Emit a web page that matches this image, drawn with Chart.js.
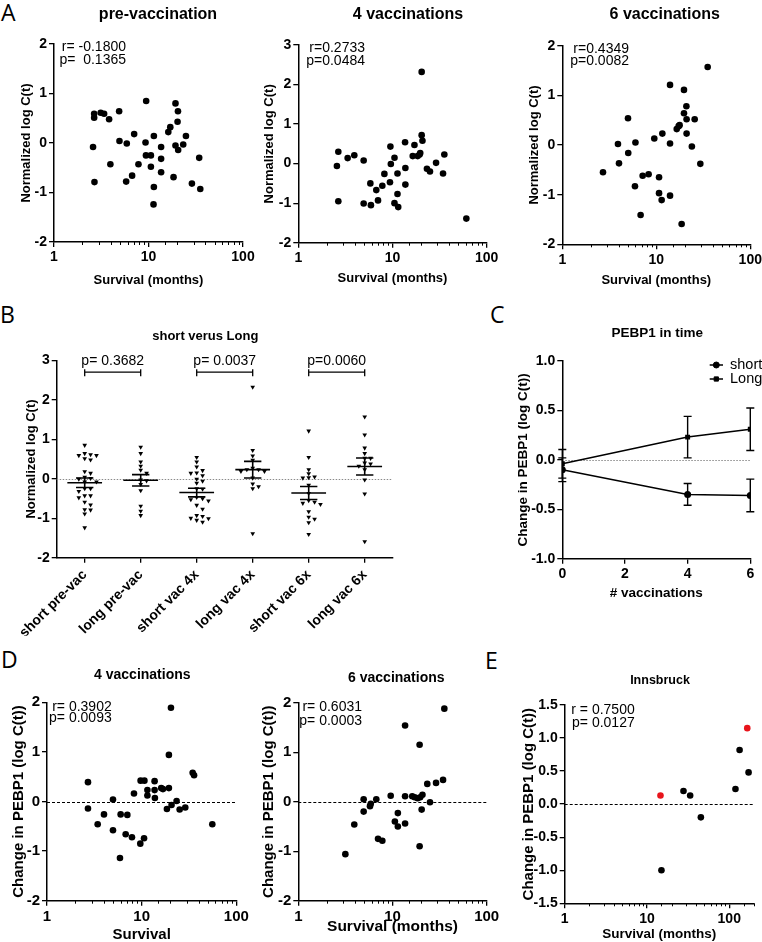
<!DOCTYPE html>
<html>
<head>
<meta charset="utf-8">
<script src="https://cdn.jsdelivr.net/npm/chart.js@4.4.0/dist/chart.umd.min.js"></script>
<style>
html, body { margin: 0; padding: 0; width: 762px; height: 942px; overflow: hidden; background: #fff; }
canvas { position: absolute; }
.tag { position: absolute; font-family: 'Open Sans', sans-serif; font-size: 23px; line-height: 23px; color: #000; }
</style>
</head>
<body>
<div class="tag" style="left:1px;top:1px">A</div>
<div class="tag" style="left:0px;top:303px">B</div>
<div class="tag" style="left:490px;top:303px">C</div>
<div class="tag" style="left:1px;top:648px">D</div>
<div class="tag" style="left:485px;top:649px">E</div>
<script>
// ---- data ----
// A: normalized log C(t) against survival (months)
const preSurv = [2.59, 2.66, 2.66, 2.68, 3.12, 3.39, 3.83, 3.95, 4.89, 4.93, 5.89, 5.8, 7.05, 6.71, 7.83, 9.45, 9.3, 9.4, 10.6, 10.6, 11.4, 11.4, 11.3, 13.6, 13.6, 13.6, 16.2, 17.0, 18.4, 19.3, 19.3, 20.5, 20.3, 20.6, 23.3, 24.9, 28.8, 34.4, 35.3];
const preLogC = [-0.08, 0.59, 0.51, -0.79, 0.61, 0.59, 0.48, -0.43, 0.64, 0.04, -0.01, -0.78, 0.18, -0.66, -0.43, 0.85, 0.01, -0.25, -0.25, -0.48, 0.14, -0.89, -1.24, -0.08, -0.32, -0.59, 0.22, 0.32, -0.69, 0.80, -0.05, 0.64, 0.43, -0.14, -0.03, 0.14, -0.82, -0.30, -0.93];
const vac4Surv = [2.57, 2.66, 2.66, 3.34, 3.93, 4.94, 4.94, 5.82, 5.9, 6.73, 7.02, 7.8, 8.2, 9.4, 9.5, 9.6, 10.5, 10.5, 11.3, 11.3, 11.5, 13.6, 13.7, 13.7, 16.4, 17.1, 18.5, 19.4, 19.7, 20.4, 20.4, 20.8, 23.2, 25.0, 29.0, 34.4, 35.5, 60.8];
const vac4LogC = [-0.06, 0.30, -0.95, 0.14, 0.21, 0.08, -1.01, -0.50, -1.05, -0.67, -0.93, -0.56, -0.26, -0.47, 0.43, -0.01, 0.15, -1.00, -0.25, -0.77, -1.10, 0.54, -0.11, -0.53, 0.19, 0.47, 0.19, 0.23, 0.27, 2.32, 0.72, 0.58, -0.13, -0.20, 0.02, -0.25, 0.23, -1.39];
const vac6Surv = [2.71, 3.91, 4.01, 5.0, 5.03, 5.93, 6.0, 6.81, 7.16, 8.28, 9.52, 10.7, 10.7, 11.4, 11.6, 14.0, 14.0, 14.0, 16.5, 17.3, 17.7, 18.6, 19.7, 19.7, 20.9, 21.0, 21.0, 23.9, 25.6, 29.4, 35.2];
const vac6LogC = [-0.55, 0.02, -0.37, 0.54, -0.16, -0.83, 0.05, -1.41, -0.62, -0.59, 0.13, -0.65, -0.97, -1.11, 0.23, 1.21, 0.03, -1.02, 0.32, 0.38, 0.40, -1.59, 1.11, 0.64, 0.78, 0.52, 0.23, -0.03, 0.52, -0.38, 1.57];
const statsPre = ['r= -0.1800', 'p=  0.1365'];
const statsVac4 = ['r=0.2733', 'p=0.0484'];
const statsVac6 = ['r=0.4349', 'p=0.0082'];

// B: short vs long survivors (split of the A data) with mean +/- SEM
const bCategories = ['short pre-vac', 'long pre-vac', 'short vac 4x', 'long vac 4x', 'short vac 6x', 'long vac 6x'];
const cutoffMonths = 15;
const pLabels = ['p= 0.3682', 'p= 0.0037', 'p=0.0060'];

// C: PEBP1 in time
const vaccinations = [0, 4, 6];
const shortMean = [-0.10, -0.35, -0.36];
const shortSem = [0.12, 0.11, 0.165];
const longMean = [-0.04, 0.23, 0.31];
const longSem = [0.145, 0.21, 0.215];

// D: change in PEBP1 against survival
const d4Surv = [2.71, 2.71, 3.43, 4.0, 4.98, 4.98, 6.0, 5.9, 6.78, 7.06, 7.9, 8.3, 9.68, 9.75, 10.7, 10.6, 11.5, 11.5, 13.7, 13.7, 13.8, 16.1, 16.8, 18.5, 19.4, 19.4, 20.4, 20.7, 23.4, 25.2, 28.9, 34.6, 35.8, 55.8];
const d4Change = [0.39, -0.14, -0.46, -0.26, 0.04, -0.58, -0.26, -1.14, -0.66, -0.27, -0.72, 0.16, -0.85, 0.42, 0.42, -0.74, 0.23, 0.12, 0.41, 0.23, 0.07, 0.27, 0.25, -0.15, 0.27, 0.94, 1.89, -0.07, 0.01, -0.16, -0.12, 0.58, 0.53, -0.46];
const d6Surv = [3.16, 3.93, 4.94, 4.94, 5.77, 5.88, 6.73, 7.02, 7.8, 9.57, 10.6, 11.4, 11.4, 13.6, 13.6, 13.6, 16.2, 17.2, 18.5, 19.4, 19.4, 19.7, 20.4, 20.8, 23.4, 25.0, 29.0, 34.4, 35.5];
const d6Change = [-1.06, -0.46, 0.05, -0.20, -0.09, -0.04, 0.05, -0.75, -0.79, 0.12, -0.40, -0.23, -0.50, 1.54, 0.11, -0.44, 0.11, 0.09, 0.07, 1.15, -0.90, 0.09, -0.16, 0.14, 0.36, -0.01, 0.38, 0.44, 1.88];
const statsD4 = ['r= 0.3902', 'p= 0.0093'];
const statsD6 = ['r= 0.6031', 'p= 0.0003'];

// E: Innsbruck cohort (two highlighted patients in red)
const innsSurv = [15.0, 27.8, 33.5, 45.2, 119, 133.6, 171.8];
const innsChange = [-1.00, 0.20, 0.13, -0.20, 0.23, 0.82, 0.48];
const innsRedSurv = [14.6, 165.6];
const innsRedChange = [0.13, 1.15];
const statsInns = ['r = 0.7500', 'p= 0.0127'];

// ---- helpers ----
const SANS = "'Liberation Sans', Arial, Helvetica, sans-serif";
Chart.defaults.font.family = SANS;
Chart.defaults.color = '#000';

const decades = [1, 10, 100];
const isDecade = v => decades.some(d => Math.abs(v - d) < 1e-6);

function axisBase(size) {
    return {
        border: {display: true, color: '#000', width: 1.5},
        grid: {drawOnChartArea: false, drawTicks: true, tickLength: 5, color: '#000', lineWidth: 1.3},
        ticks: {color: '#000', padding: 2, font: {size: size, weight: 'bold'}}
    };
}

function logX(size, max) {
    const o = axisBase(size);
    o.type = 'logarithmic';
    o.min = 1;
    o.max = max || 100;
    // minor ticks are drawn shorter by minorTicks()
    o.grid.tickColor = c => (c.tick && isDecade(c.tick.value)) ? '#000' : 'rgba(0,0,0,0)';
    o.ticks.autoSkip = false;
    o.ticks.maxRotation = 0;
    o.ticks.callback = v => isDecade(v) ? String(v) : '';
    return o;
}

function minorTicks(chart, ctx) {
    const xs = chart.scales.x;
    const y = chart.chartArea.bottom;
    ctx.save();
    ctx.strokeStyle = '#000';
    ctx.lineWidth = 1;
    ctx.beginPath();
    xs.ticks.forEach(t => {
        if (isDecade(t.value)) return;
        const x = Math.round(xs.getPixelForValue(t.value)) + 0.5;
        ctx.moveTo(x, y);
        ctx.lineTo(x, y + 3);
    });
    ctx.stroke();
    ctx.restore();
}

function linAxis(size, min, max, step, digits) {
    const o = axisBase(size);
    o.type = 'linear';
    o.min = min;
    o.max = max;
    o.ticks.stepSize = step;
    if (digits) o.ticks.callback = v => v.toFixed(digits);
    return o;
}

function points(xs, ys) {
    return xs.map((x, i) => ({x: x, y: ys[i]}));
}

function dots(xs, ys, color) {
    return {data: points(xs, ys), backgroundColor: color || '#000', borderWidth: 0, pointRadius: 3.3};
}

function zeroLine(color, dash) {
    return (chart, ctx) => {
        const {left, right} = chart.chartArea;
        const y = Math.round(chart.scales.y.getPixelForValue(0)) + 0.5;
        ctx.save();
        ctx.strokeStyle = color;
        ctx.lineWidth = 1;
        ctx.setLineDash(dash);
        ctx.beginPath();
        ctx.moveTo(left, y);
        ctx.lineTo(right, y);
        ctx.stroke();
        ctx.restore();
    };
}

function statsText(lines, rx, ys) {
    return (chart, ctx, off) => {
        ctx.save();
        ctx.font = '14px ' + SANS;
        ctx.fillStyle = '#000';
        ctx.textAlign = 'right';
        ctx.textBaseline = 'middle';
        lines.forEach((t, i) => ctx.fillText(t, rx - off.x, ys[i] - off.y));
        ctx.restore();
    };
}

// one chart per panel; L holds the page-space layout of the panel
function panel(L, type, datasets, xOpt, yOpt) {
    const cl = L.cl !== undefined ? L.cl : Math.round(L.yt - 0.6 * L.ys - 1);
    const ct = Math.floor(Math.min(L.ty - L.ts, L.t - 14));
    const cr = Math.round(L.r + (L.padR || 22));
    const xh = L.xh || (L.xt + 0.6 * L.xs - L.b);
    const cb = Math.ceil(L.b + xh + 3);
    const off = {x: cl, y: ct};

    const cv = document.createElement('canvas');
    cv.width = cr - cl;
    cv.height = cb - ct;
    cv.style.left = cl + 'px';
    cv.style.top = ct + 'px';
    document.body.appendChild(cv);

    xOpt.afterFit = s => { s.height = xh; s.paddingLeft = 0; s.paddingRight = 0; s.paddingTop = 0; s.paddingBottom = 0; };
    yOpt.afterFit = s => { s.width = L.l - cl; s.paddingLeft = 0; s.paddingRight = 0; s.paddingTop = 0; s.paddingBottom = 0; };
    if (L.xTitle) {
        xOpt.title = {display: true, text: L.xTitle, color: '#000', font: {size: L.xs, weight: 'bold'}, padding: {top: 0, bottom: 0}};
    }
    yOpt.title = {display: true, text: L.yTitle, color: '#000', font: {size: L.ys, weight: 'bold'}, padding: {top: L.yt - 0.6 * L.ys - cl, bottom: 0}};

    const extras = {
        id: 'extras',
        beforeDatasetsDraw(chart) {
            (L.under || []).forEach(f => f(chart, chart.ctx, off));
        },
        afterDatasetsDraw(chart) {
            (L.over || []).forEach(f => f(chart, chart.ctx, off));
        },
        afterDraw(chart) {
            const ctx = chart.ctx;
            if (xOpt.type === 'logarithmic') minorTicks(chart, ctx);
            ctx.save();
            ctx.font = 'bold ' + L.ts + 'px ' + SANS;
            ctx.fillStyle = '#000';
            ctx.textAlign = 'center';
            ctx.textBaseline = 'middle';
            ctx.fillText(L.title, L.tx - off.x, L.ty - off.y);
            ctx.restore();
            (L.text || []).forEach(f => f(chart, ctx, off));
        }
    };

    return new Chart(cv, {
        type: type,
        data: {datasets: datasets},
        options: {
            responsive: false,
            animation: false,
            events: [],
            layout: {padding: {left: 0, top: L.t - ct, right: cr - L.r, bottom: cb - L.b - xh}},
            plugins: {legend: {display: false}, tooltip: {enabled: false}},
            scales: {x: xOpt, y: yOpt}
        },
        plugins: [extras]
    });
}

// ---- A ----
const yLogC = 'Normalized log C(t)';
const xSurvM = 'Survival (months)';
panel({l: 54, t: 44, r: 243, b: 242, title: 'pre-vaccination', tx: 158, ty: 15, ts: 16,
       yTitle: yLogC, yt: 26.7, ys: 13, xTitle: xSurvM, xt: 280, xs: 13,
       text: [statsText(statsPre, 126, [46.7, 60])]},
      'scatter', [dots(preSurv, preLogC)], logX(14), linAxis(14, -2, 2, 1));
panel({l: 298.3, t: 45, r: 486.7, b: 242.7, title: '4 vaccinations', tx: 408, ty: 15, ts: 16,
       yTitle: yLogC, yt: 269, ys: 13, xTitle: xSurvM, xt: 278.3, xs: 13,
       text: [statsText(statsVac4, 365, [48.3, 61])]},
      'scatter', [dots(vac4Surv, vac4LogC)], logX(14), linAxis(14, -2, 3, 1));
panel({l: 562.3, t: 45.7, r: 750.3, b: 244.3, title: '6 vaccinations', tx: 664.7, ty: 15, ts: 16,
       yTitle: yLogC, yt: 534.7, ys: 13, xTitle: xSurvM, xt: 280, xs: 13,
       text: [statsText(statsVac6, 629, [49.3, 61])]},
      'scatter', [dots(vac6Surv, vac6LogC)], logX(14), linAxis(14, -2, 2, 1));

// ---- B ----
const timepoints = [[preSurv, preLogC], [vac4Surv, vac4LogC], [vac6Surv, vac6LogC]];
const bGroups = [];
timepoints.forEach(([surv, vals]) => {
    bGroups.push(vals.filter((v, i) => surv[i] < cutoffMonths));
    bGroups.push(vals.filter((v, i) => surv[i] >= cutoffMonths));
});
const bMean = [], bSem = [];
vaccinations.forEach((v, i) => {
    bMean.push(shortMean[i], longMean[i]);
    bSem.push(shortSem[i], longSem[i]);
});

// spread equal values sideways, like a column scatter
function swarm(values, center) {
    const STEP = 0.105, DY = 0.1;
    const placed = [];
    values.slice().sort((a, b) => b - a).forEach(v => {
        for (let k = 0; k < 40; k++) {
            const x = center + (k % 2 ? 1 : -1) * Math.ceil(k / 2) * STEP;
            if (!placed.some(p => Math.abs(p.y - v) < DY && Math.abs(p.x - x) < STEP * 0.95)) {
                placed.push({x: x, y: v});
                break;
            }
        }
    });
    return placed;
}
const bPoints = [];
bGroups.forEach((g, i) => bPoints.push(...swarm(g, i + 0.5)));

function meanSem(chart, ctx) {
    const xs = chart.scales.x, ys = chart.scales.y;
    const cat = xs.getPixelForValue(1) - xs.getPixelForValue(0);
    ctx.save();
    ctx.strokeStyle = '#000';
    ctx.lineWidth = 1.6;
    bMean.forEach((m, i) => {
        const x = xs.getPixelForValue(i + 0.5);
        const ym = ys.getPixelForValue(m);
        const yt = ys.getPixelForValue(m + bSem[i]);
        const yb = ys.getPixelForValue(m - bSem[i]);
        ctx.beginPath();
        ctx.moveTo(x - 0.31 * cat, ym); ctx.lineTo(x + 0.31 * cat, ym);
        ctx.moveTo(x, yt); ctx.lineTo(x, yb);
        ctx.moveTo(x - 0.155 * cat, yt); ctx.lineTo(x + 0.155 * cat, yt);
        ctx.moveTo(x - 0.155 * cat, yb); ctx.lineTo(x + 0.155 * cat, yb);
        ctx.stroke();
    });
    ctx.restore();
}

function brackets(chart, ctx) {
    const xs = chart.scales.x, ys = chart.scales.y;
    const y = ys.getPixelForValue(2.7);
    const ty = ys.getPixelForValue(2.97);
    ctx.save();
    ctx.strokeStyle = '#000';
    ctx.lineWidth = 1.3;
    ctx.fillStyle = '#000';
    ctx.font = '14px ' + SANS;
    ctx.textAlign = 'center';
    ctx.textBaseline = 'middle';
    pLabels.forEach((t, k) => {
        const x1 = xs.getPixelForValue(2 * k + 0.5), x2 = xs.getPixelForValue(2 * k + 1.5);
        ctx.beginPath();
        ctx.moveTo(x1, y); ctx.lineTo(x2, y);
        ctx.moveTo(x1, y - 3); ctx.lineTo(x1, y + 4);
        ctx.moveTo(x2, y - 3); ctx.lineTo(x2, y + 4);
        ctx.stroke();
        ctx.fillText(t, (x1 + x2) / 2, ty);
    });
    ctx.restore();
}

const bX = axisBase(14);
bX.type = 'linear';
bX.min = 0;
bX.max = bCategories.length;
bX.afterBuildTicks = axis => { axis.ticks = bCategories.map((c, i) => ({value: i + 0.5})); };
bX.ticks.autoSkip = false;
bX.ticks.padding = 4;
bX.ticks.minRotation = 45;
bX.ticks.maxRotation = 45;
bX.ticks.callback = (v, i) => bCategories[i];

panel({l: 56.7, t: 360.3, r: 392.7, b: 557.7, title: 'short verus Long', tx: 205.3, ty: 336.7, ts: 13,
       yTitle: yLogC, yt: 31.7, ys: 13, xh: 78, cl: 0,
       under: [zeroLine('#8a8a8a', [1.5, 1.5])], over: [meanSem, brackets]},
      'scatter', [{data: bPoints, backgroundColor: '#000', borderWidth: 0, pointStyle: 'triangle', rotation: 180, pointRadius: 2.7}],
      bX, linAxis(14, -2, 3, 1));

// ---- C ----
function errorBars(chart, ctx) {
    const xs = chart.scales.x, ys = chart.scales.y;
    ctx.save();
    ctx.strokeStyle = '#000';
    ctx.lineWidth = 1.4;
    chart.data.datasets.forEach(ds => {
        ds.data.forEach((p, i) => {
            const x = xs.getPixelForValue(p.x);
            const yt = ys.getPixelForValue(p.y + ds.sem[i]);
            const yb = ys.getPixelForValue(p.y - ds.sem[i]);
            ctx.beginPath();
            ctx.moveTo(x, yt); ctx.lineTo(x, yb);
            ctx.moveTo(x - 4, yt); ctx.lineTo(x + 4, yt);
            ctx.moveTo(x - 4, yb); ctx.lineTo(x + 4, yb);
            ctx.stroke();
        });
    });
    ctx.restore();
}

function lineLegend(chart, ctx, off) {
    const rows = [365, 379];
    ctx.save();
    chart.data.datasets.forEach((ds, i) => {
        const y = rows[i] - off.y;
        ctx.strokeStyle = '#000';
        ctx.fillStyle = '#000';
        ctx.lineWidth = 1.5;
        ctx.beginPath();
        ctx.moveTo(709.7 - off.x, y); ctx.lineTo(723 - off.x, y);
        ctx.stroke();
        ctx.lineWidth = 1;
        Chart.helpers.drawPoint(ctx, {pointStyle: ds.pointStyle, radius: 3, rotation: 0, borderWidth: 1}, 716.3 - off.x, y);
        ctx.font = '14.5px ' + SANS;
        ctx.textAlign = 'left';
        ctx.textBaseline = 'middle';
        ctx.fillText(ds.label, 730 - off.x, y);
    });
    ctx.restore();
}

function trend(label, means, sems, style) {
    return {label: label, data: points(vaccinations, means), sem: sems, showLine: true,
            borderColor: '#000', borderWidth: 1.5, backgroundColor: '#000',
            pointStyle: style, pointRadius: 3.5, pointBorderWidth: 0};
}

panel({l: 562.3, t: 361, r: 750.3, b: 558.7, title: 'PEBP1 in time', tx: 657.2, ty: 333.3, ts: 13.5,
       yTitle: 'Change in PEBP1 (log C(t))', yt: 523, ys: 13.5, xTitle: '# vaccinations', xt: 593.3, xs: 13.5,
       padR: 11.7,
       under: [zeroLine('#8a8a8a', [1.5, 1.5])], over: [errorBars], text: [lineLegend]},
      'scatter', [trend('short', shortMean, shortSem, 'circle'), trend('Long', longMean, longSem, 'rect')],
      linAxis(14, 0, 6, 2), linAxis(14, -1, 1, 0.5, 1));

// ---- D ----
const yChange = 'Change in PEBP1 (log C(t))';
panel({l: 47, t: 702.3, r: 236.3, b: 900.7, title: '4 vaccinations', tx: 142.3, ty: 675, ts: 14,
       yTitle: yChange, yt: 19.3, ys: 15, xTitle: 'Survival', xt: 935, xs: 15,
       under: [zeroLine('#000', [3, 2])], text: [statsText(statsD4, 111.7, [707, 718])]},
      'scatter', [dots(d4Surv, d4Change)], logX(15), linAxis(15, -2, 2, 1));
panel({l: 298.3, t: 702.7, r: 486.7, b: 900.7, title: '6 vaccinations', tx: 396.3, ty: 678.3, ts: 14,
       yTitle: yChange, yt: 269, ys: 15, xTitle: xSurvM, xt: 926.7, xs: 15.5,
       under: [zeroLine('#000', [3, 2])], text: [statsText(statsD6, 362, [707.3, 721])]},
      'scatter', [dots(d6Surv, d6Change)], logX(15), linAxis(15, -2, 2, 1));

// ---- E ----
panel({l: 564.7, t: 705, r: 754, b: 903.3, title: 'Innsbruck', tx: 660, ty: 680.7, ts: 12.5,
       yTitle: yChange, yt: 529, ys: 15, xTitle: xSurvM, xt: 934, xs: 13.5,
       under: [zeroLine('#000', [3, 2])], text: [statsText(statsInns, 634.7, [710, 723.3])]},
      'scatter', [dots(innsSurv, innsChange), dots(innsRedSurv, innsRedChange, '#e8141b')],
      logX(14, 200), linAxis(14, -1.5, 1.5, 0.5, 1));
</script>
</body>
</html>
